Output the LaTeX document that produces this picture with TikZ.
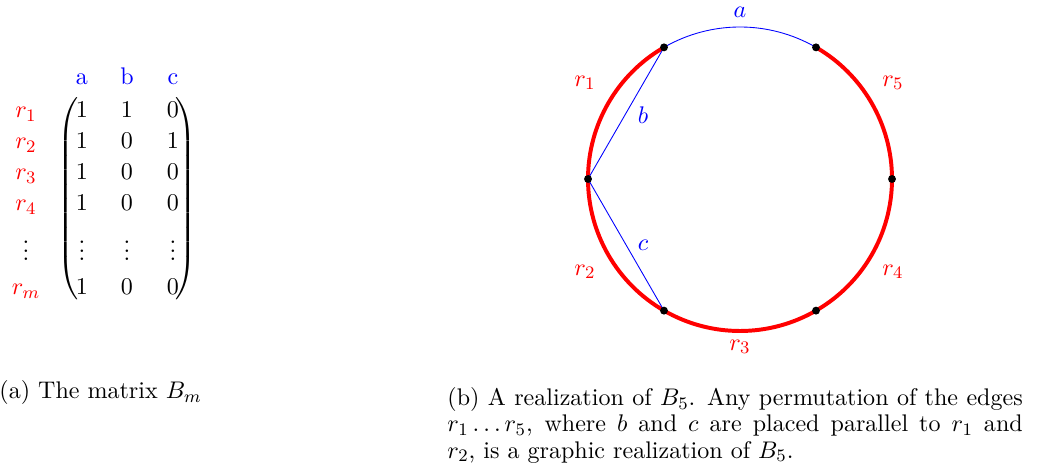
\documentclass[tikz,border=0pt]{standalone}
\usepackage{amsmath}
\usepackage{amssymb}
\usepackage{tikz}
\newcommand{\vdotsb}{\vbox{\baselineskip4pt \lineskiplimit0pt \hbox{.}\hbox{.}\hbox{.}}}

\begin{document}
\begin{tikzpicture}[x=0.016cm, y=0.016cm, font=\fontsize{10.95}{12}\selectfont,
        redge/.style={red, line width=1.8pt},
        bedge/.style={blue, thin},
        rlab/.style={red},
        blab/.style={blue}]
        \useasboundingbox (0,0) rectangle (1037,469);
        % the matrix B_m
        \foreach \x/\c in {82/a,127/b,173/c} \node[blab, anchor=base] (col\c) at (\x,384) {\c};
        \foreach \y/\i/\p/\q/\s in {351/1/1/1/0, 320/2/1/0/1, 289/3/1/0/0, 258/4/1/0/0, 174/m/1/0/0}{
            \node[rlab, anchor=base] (row\i) at (26,\y) {$r_\i$};
            \node[anchor=base] (e\i a) at (82,\y) {$\p$};
            \node[anchor=base] (e\i b) at (127,\y) {$\q$};
            \node[anchor=base] (e\i c) at (173,\y) {$\s$};
        }
        \foreach \x/\c in {26/r,82/a,127/b,173/c} \node[anchor=base, inner sep=1pt] (dots\c) at (\x,208) {\vdotsb};
        \node[anchor=west, inner sep=0] (lpar) at (57,270) {$\left(\vcenter{\hbox{\rule{0pt}{92pt}}}\right.$};
        \node[anchor=east, inner sep=0] (rpar) at (197,270) {$\left.\vcenter{\hbox{\rule{0pt}{92pt}}}\right)$};
        \node[anchor=base west, inner sep=0] (capa) at (-1,70) {(a) The matrix $B_m$};
        % the realization of B_5
        \coordinate (o) at (740,290);
        \foreach \k in {0,...,5} \path (o) ++(60*\k:152) coordinate (v\k);
        \draw[bedge] (v1) arc[start angle=60, end angle=120, radius=152];
        \foreach \k in {2,...,6}{
            \pgfmathtruncatemacro{\j}{mod(\k,6)}
            \draw[redge] (v\j) arc[start angle=60*\k, end angle=60*\k+60, radius=152];
        }
        \draw[bedge] (v2) -- (v3); \draw[bedge] (v3) -- (v4);
        \foreach \k in {0,...,5} \fill (v\k) circle (1.8pt);
        \node[blab] (la) at (740,457) {$a$};
        \node[blab] (lb) at (643,354) {$b$};
        \node[blab] (lc) at (643,224) {$c$};
        \node[rlab] (lr1) at (585,386) {$r_1$};
        \node[rlab] (lr2) at (585,197) {$r_2$};
        \node[rlab] (lr3) at (740,122) {$r_3$};
        \node[rlab] (lr4) at (893,197) {$r_4$};
        \node[rlab] (lr5) at (893,386) {$r_5$};
        \node[anchor=north west, inner sep=0, text width=262pt, align=justify] (capb) at (447,82)
            {(b) A realization of $B_5$. Any permutation of the edges $r_1\ldots r_5$, where $b$ and $c$ are placed parallel to $r_1$ and\linebreak $r_2$, is a graphic realization of $B_5$.};
    \end{tikzpicture}
\end{document}
